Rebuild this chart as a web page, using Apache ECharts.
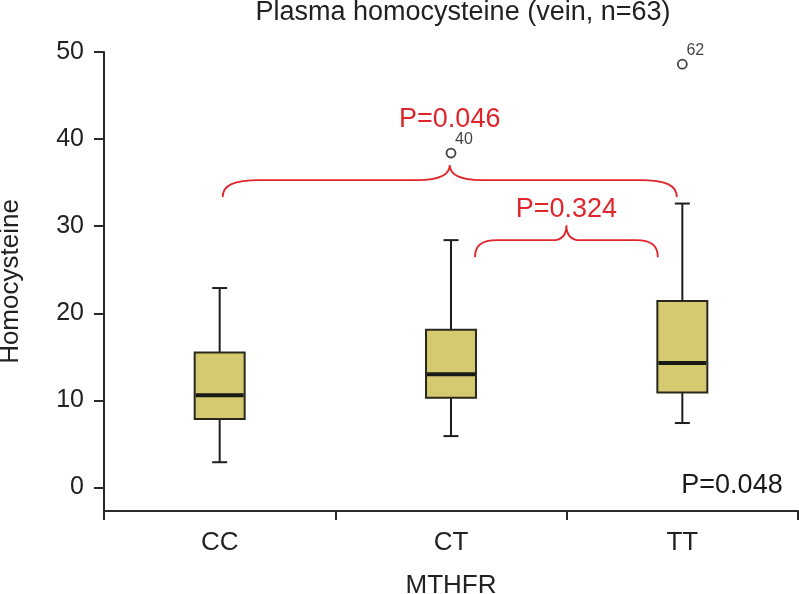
<!DOCTYPE html>
<html>
<head>
<meta charset="utf-8">
<script src="https://cdn.jsdelivr.net/npm/echarts@6/dist/echarts.min.js"></script>
<style>
html,body{margin:0;padding:0;background:#fff;}
#main{width:799px;height:594px;}
</style>
</head>
<body>
<div id="main"></div>
<script>
// ---- data ----
const groups = ['CC', 'CT', 'TT'];
const whiskerLow = [2.9, 5.9, 7.4];
const q1 = [7.85, 10.3, 10.9];
const median = [10.6, 13.0, 14.3];
const q3 = [15.5, 18.1, 21.4];
const whiskerHigh = [22.9, 28.4, 32.6];
const outlierGroup = ['CT', 'TT'];
const outlierValue = [38.4, 48.6];
const outlierId = ['40', '62'];
const yTicks = [0, 10, 20, 30, 40, 50];
const comparisonFrom = ['CC', 'CT'];
const comparisonTo = ['TT', 'TT'];
const comparisonP = ['P=0.046', 'P=0.324'];
const braceLevel = [35.3, 28.4];
const overallP = 'P=0.048';
const titleText = 'Plasma homocysteine (vein, n=63)';

// ---- styling ----
const FONT = '"Liberation Sans", Arial, Helvetica, sans-serif';
const RED = '#e0262c';
const braceInset = [[3, 5.5], [24, 24.5]];
const braceEndR = [37, 22];
const braceMidR = [32, 14];
const braceLabelGap = [45, 16];

const boxData = groups.map((g, i) => [i, whiskerLow[i], q1[i], median[i], q3[i], whiskerHigh[i]]);
const outlierData = outlierGroup.map((g, i) => [groups.indexOf(g), outlierValue[i], outlierId[i]]);
const braceData = comparisonFrom.map((g, i) => [groups.indexOf(g), groups.indexOf(comparisonTo[i]), braceLevel[i]]);

function renderBox(params, api) {
  const i = api.value(0);
  const lo = api.coord([i, api.value(1)]);
  const b1 = api.coord([i, api.value(2)]);
  const md = api.coord([i, api.value(3)]);
  const b3 = api.coord([i, api.value(4)]);
  const hi = api.coord([i, api.value(5)]);
  const bw = api.size([1, 0])[0] * 0.216;
  const cw = 15;
  const x = lo[0];
  const ls = { stroke: '#1e1e1e', lineWidth: 2 };
  return {
    type: 'group',
    children: [
      { type: 'line', shape: { x1: x, y1: hi[1], x2: x, y2: b3[1] }, style: ls },
      { type: 'line', shape: { x1: x, y1: b1[1], x2: x, y2: lo[1] }, style: ls },
      { type: 'line', shape: { x1: x - cw / 2, y1: hi[1], x2: x + cw / 2, y2: hi[1] }, style: ls },
      { type: 'line', shape: { x1: x - cw / 2, y1: lo[1], x2: x + cw / 2, y2: lo[1] }, style: ls },
      { type: 'rect', shape: { x: x - bw / 2, y: b3[1], width: bw, height: b1[1] - b3[1] },
        style: { fill: '#d5ca70', stroke: '#2a281c', lineWidth: 2 } },
      { type: 'line', shape: { x1: x - bw / 2 + 1, y1: md[1], x2: x + bw / 2 - 1, y2: md[1] },
        style: { stroke: '#1a1a14', lineWidth: 4 } }
    ]
  };
}

function renderBrace(params, api) {
  const k = params.dataIndex;
  const a = api.coord([api.value(0), api.value(2)]);
  const b = api.coord([api.value(1), api.value(2)]);
  const x1 = a[0] + braceInset[k][0];
  const x2 = b[0] - braceInset[k][1];
  const y = a[1];
  const h = 17, hc = 15;
  const xm = (x1 + x2) / 2;
  const re = braceEndR[k], rc = braceMidR[k];
  const path =
    'M' + x1 + ',' + (y + h) +
    ' C' + x1 + ',' + (y + h * 0.3) + ' ' + (x1 + re * 0.3) + ',' + y + ' ' + (x1 + re) + ',' + y +
    ' L' + (xm - rc) + ',' + y +
    ' C' + (xm - rc * 0.3) + ',' + y + ' ' + xm + ',' + (y - hc * 0.4) + ' ' + xm + ',' + (y - hc) +
    ' C' + xm + ',' + (y - hc * 0.4) + ' ' + (xm + rc * 0.3) + ',' + y + ' ' + (xm + rc) + ',' + y +
    ' L' + (x2 - re) + ',' + y +
    ' C' + (x2 - re * 0.3) + ',' + y + ' ' + x2 + ',' + (y + h * 0.3) + ' ' + x2 + ',' + (y + h);
  return {
    type: 'group',
    children: [
      { type: 'path', shape: { pathData: path }, style: { fill: null, stroke: RED, lineWidth: 1.8 } },
      { type: 'text', style: { text: comparisonP[k], x: xm, y: y - hc - braceLabelGap[k],
          align: 'center', verticalAlign: 'middle', fill: RED, font: '27px ' + FONT } }
    ]
  };
}

const chart = echarts.init(document.getElementById('main'));
chart.setOption({
  animation: false,
  backgroundColor: '#ffffff',
  textStyle: { fontFamily: FONT },
  grid: { left: 104, right: 1, top: 52, bottom: 83, containLabel: false, outerBoundsMode: 'none' },
  graphic: [
    { type: 'text', x: 463, y: 13, style: { text: titleText, align: 'center', verticalAlign: 'middle',
        fill: '#222', font: '27px ' + FONT } },
    { type: 'text', x: 732, y: 486, style: { text: overallP, align: 'center', verticalAlign: 'middle',
        fill: '#1a1a1a', font: '27px ' + FONT } }
  ],
  xAxis: {
    type: 'category',
    data: groups,
    boundaryGap: true,
    name: 'MTHFR',
    nameLocation: 'middle',
    nameGap: 62,
    nameTextStyle: { fontSize: 26, color: '#222', fontFamily: FONT, verticalAlign: 'top' },
    axisLine: { onZero: false, lineStyle: { color: '#2a2a2a', width: 2 } },
    axisTick: { show: true, length: 9, lineStyle: { color: '#2a2a2a', width: 2 } },
    axisLabel: { fontSize: 26, color: '#222', margin: 19, fontFamily: FONT },
    splitLine: { show: false }
  },
  yAxis: {
    type: 'value',
    min: -2.7,
    max: 50,
    name: 'Homocysteine',
    nameLocation: 'middle',
    nameGap: 80,
    nameTextStyle: { fontSize: 26, color: '#222', fontFamily: FONT },
    axisLine: { show: true, lineStyle: { color: '#2a2a2a', width: 2 } },
    axisTick: { show: true, length: 10, customValues: yTicks, lineStyle: { color: '#2a2a2a', width: 2 } },
    axisLabel: { fontSize: 25, color: '#222', margin: 20, customValues: yTicks, fontFamily: FONT },
    splitLine: { show: false }
  },
  series: [
    {
      type: 'custom',
      renderItem: renderBox,
      encode: { x: 0, y: [1, 2, 3, 4, 5] },
      data: boxData,
      z: 2
    },
    {
      type: 'scatter',
      data: outlierData,
      symbol: 'circle',
      symbolSize: 9,
      itemStyle: { color: '#ffffff', borderColor: '#111', borderWidth: 1.8 },
      label: {
        show: true,
        formatter: p => p.data[2],
        position: [9.5, -8],
        align: 'left',
        verticalAlign: 'middle',
        fontSize: 16,
        color: '#111',
        fontFamily: FONT
      },
      z: 3
    },
    {
      type: 'custom',
      renderItem: renderBrace,
      encode: { x: [0, 1], y: 2 },
      data: braceData,
      z: 4
    }
  ]
});
</script>
</body>
</html>
